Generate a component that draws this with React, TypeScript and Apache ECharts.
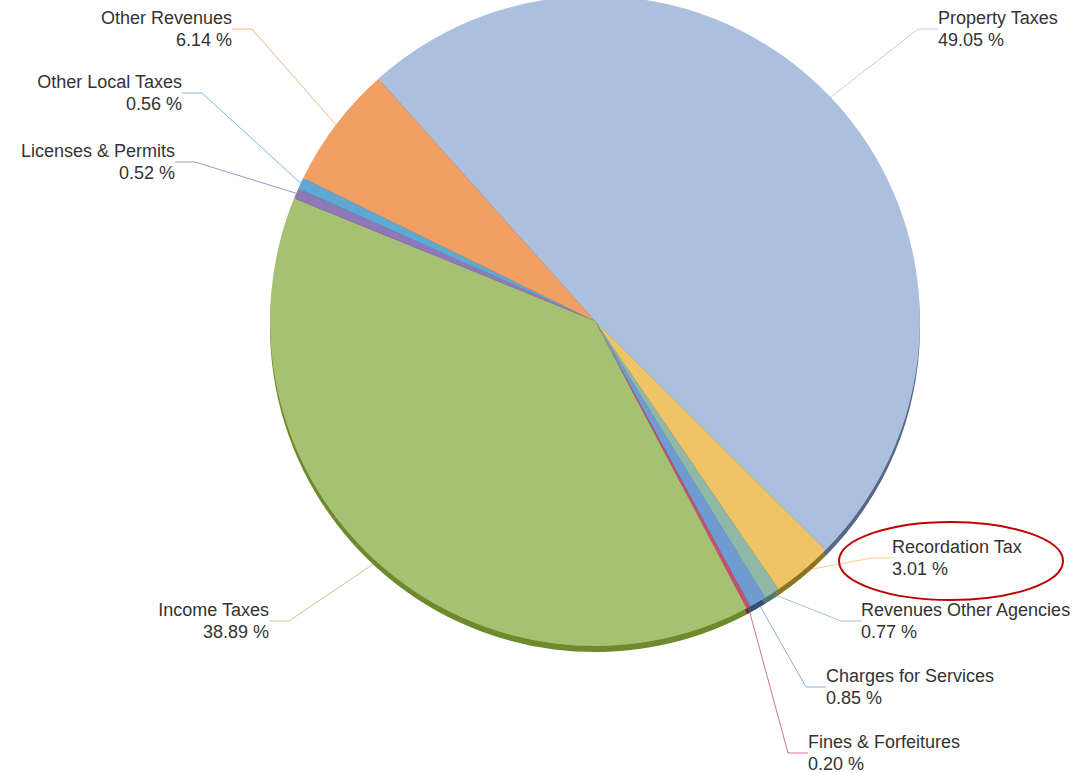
import React, { useEffect, useRef } from "react";
import * as echarts from "echarts";

const categories = [
  "Property Taxes",
  "Recordation Tax",
  "Revenues Other Agencies",
  "Charges for Services",
  "Fines & Forfeitures",
  "Income Taxes",
  "Licenses & Permits",
  "Other Local Taxes",
  "Other Revenues",
];
const shares = [49.05, 3.01, 0.77, 0.85, 0.2, 38.89, 0.52, 0.56, 6.14];

const sliceColors = [
  "#abbfdf",
  "#efc466",
  "#8fb8a8",
  "#6f9bd0",
  "#c9506a",
  "#a6c172",
  "#8f78b8",
  "#5ea8d2",
  "#f0a064",
];
const rimColors = [
  "#56688a",
  "#8a7424",
  "#4f7a6a",
  "#34507a",
  "#7a2a3a",
  "#6e8a2c",
  "#4f3a78",
  "#2f6a8a",
  "#9a5a2a",
];

// label anchor [x, y(top), align]
const labelPlacement: [number, number, string][] = [
  [938, 7, "left"],
  [892, 536, "left"],
  [861, 599, "left"],
  [826, 665, "left"],
  [808, 731, "left"],
  [269, 599, "right"],
  [175, 140, "right"],
  [182, 71, "right"],
  [232, 7, "right"],
];

export default function App() {
  const ref = useRef<HTMLDivElement>(null);
  useEffect(() => {
    if (!ref.current) return;
    const chart = echarts.init(ref.current, undefined, { renderer: "svg" });
    const center = [595, 321];
    const radius = 325;
    const startAngle = 131.8;
    chart.setOption({
      animation: false,
      backgroundColor: "#ffffff",
      series: [
        {
          type: "pie",
          silent: true,
          center: [center[0], center[1] + 6],
          radius: radius,
          startAngle,
          label: { show: false },
          labelLine: { show: false },
          data: categories.map((c, i) => ({
            name: c,
            value: shares[i],
            itemStyle: { color: rimColors[i] },
          })),
        },
        {
          type: "pie",
          center,
          radius: radius,
          startAngle,
          avoidLabelOverlap: false,
          itemStyle: { borderWidth: 0 },
          label: {
            show: true,
            position: "outside",
            fontFamily: "Liberation Sans, Arial, sans-serif",
            fontSize: 18,
            lineHeight: 22,
            color: "#333333",
            formatter: (p: any) => `${p.name}\n${Number(p.value).toFixed(2)} %`,
          },
          labelLine: {
            show: true,
            length: 14,
            length2: 20,
            lineStyle: { width: 1, opacity: 0.8 },
          },
          labelLayout: (params: any) => {
            const pl = labelPlacement[params.dataIndex];
            return {
              x: pl[0],
              y: pl[1],
              align: pl[2],
              verticalAlign: "top",
              hideOverlap: false,
            };
          },
          data: categories.map((c, i) => ({
            name: c,
            value: shares[i],
            itemStyle: { color: sliceColors[i] },
            label: { align: labelPlacement[i][2] },
          })),
        },
      ],
      graphic: [
        {
          type: "ellipse",
          shape: { cx: 951, cy: 561, rx: 112, ry: 39 },
          style: { fill: "none", stroke: "#c00000", lineWidth: 2 },
          z: 100,
        },
      ],
    });
    return () => chart.dispose();
  }, []);
  return (
    <div
      ref={ref}
      style={{ position: "absolute", left: 0, top: 0, width: 1086, height: 773 }}
    />
  );
}
